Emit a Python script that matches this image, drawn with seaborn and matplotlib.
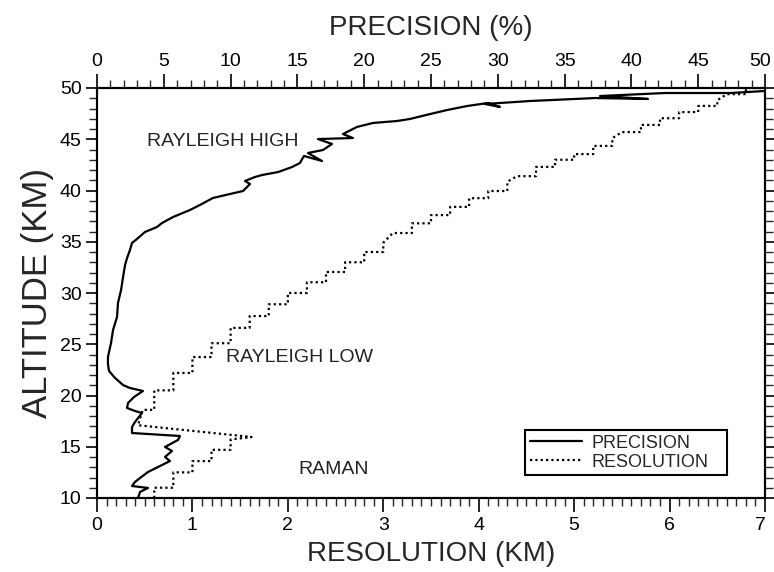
import matplotlib
matplotlib.use("Agg")
import matplotlib.pyplot as plt
from matplotlib.ticker import MultipleLocator
from matplotlib.transforms import ScaledTranslation
import seaborn as sns
import pandas as pd

# Precision profile (%), plotted against the top axis
prec_alt = [10.0, 10.59, 10.98, 11.17, 11.56, 11.95, 12.54, 13.22, 13.61, 14.0,
            14.59, 14.98, 15.66, 16.05, 16.34, 16.93, 17.41, 18.29, 18.49, 18.78,
            19.27, 19.85, 20.44, 20.73, 21.02, 21.71, 22.39, 23.07, 23.76, 25.12,
            26.39, 27.66, 29.02, 30.29, 31.56, 32.73, 33.41, 34.2, 34.88, 35.27,
            35.95, 36.44, 36.83, 37.41, 38.1, 38.59, 39.27, 39.66, 39.95, 40.63,
            40.93, 41.32, 41.51, 41.8, 42.29, 42.68, 43.37, 42.88, 43.66, 43.95,
            44.54, 45.02, 45.12, 45.51, 46.2, 46.59, 46.78, 46.98, 47.46, 47.85,
            48.24, 48.54, 48.15, 48.44, 48.73, 49.02, 48.93, 49.22, 49.51, 49.51,
            49.71]
prec_pct = [3.07, 3.22, 3.82, 2.62, 2.84, 3.22, 3.82, 4.87, 5.46, 5.09,
            5.61, 5.09, 6.06, 6.21, 2.62, 2.62, 2.84, 3.37, 2.84, 2.25,
            2.32, 2.77, 3.44, 2.47, 1.95, 1.35, 0.9, 0.82, 0.82, 1.05,
            1.2, 1.5, 1.57, 1.8, 1.95, 2.1, 2.25, 2.47, 2.62, 2.99,
            3.59, 4.49, 4.87, 5.69, 6.96, 7.71, 8.68, 9.96, 10.93, 11.45,
            11.08, 11.83, 12.35, 13.55, 14.6, 15.19, 15.49, 16.84, 15.79, 16.92,
            17.59, 16.54, 19.16, 18.41, 19.46, 20.66, 22.46, 23.43, 24.93, 26.2,
            27.69, 29.27, 30.16, 29.04, 32.41, 37.28, 41.24, 37.65, 42.51, 47.38,
            50.0]

# Vertical resolution profile (km), plotted against the bottom axis
res_alt = [10.0, 11.0, 11.0, 12.5, 12.5, 13.6, 13.6, 14.7, 14.7, 15.7,
           15.95, 17.1, 18.6, 18.6, 20.5, 20.5, 22.2, 22.2, 23.75, 23.75,
           25.1, 25.1, 26.6, 26.6, 27.75, 27.75, 28.9, 28.9, 30.0, 30.0,
           31.05, 31.05, 32.05, 32.05, 33.0, 33.0, 34.0, 34.0, 34.9, 35.85,
           35.85, 36.8, 36.8, 37.6, 37.6, 38.4, 38.4, 39.25, 39.25, 39.95,
           39.95, 40.85, 41.4, 41.4, 42.3, 42.3, 43.0, 43.0, 43.55, 43.55,
           44.35, 44.35, 45.1, 45.7, 45.7, 46.4, 46.4, 47.05, 47.05, 47.65,
           47.65, 48.25, 48.25, 48.8, 49.4, 49.4, 50.0, 50.0]
res_km = [0.6, 0.6, 0.8, 0.8, 1.0, 1.0, 1.2, 1.2, 1.4, 1.4,
          1.62, 0.43, 0.48, 0.6, 0.6, 0.8, 0.8, 1.0, 1.0, 1.2,
          1.2, 1.4, 1.4, 1.6, 1.6, 1.8, 1.8, 2.0, 2.0, 2.2,
          2.2, 2.4, 2.4, 2.6, 2.6, 2.8, 2.8, 3.0, 3.0, 3.1,
          3.3, 3.3, 3.5, 3.5, 3.7, 3.7, 3.9, 3.9, 4.1, 4.1,
          4.3, 4.3, 4.4, 4.6, 4.6, 4.8, 4.8, 5.0, 5.0, 5.2,
          5.2, 5.4, 5.4, 5.5, 5.7, 5.7, 5.9, 5.9, 6.1, 6.1,
          6.3, 6.3, 6.5, 6.5, 6.6, 6.8, 6.8, 7.0]

res_ticks = list(range(0, 8))
prec_ticks = list(range(0, 55, 5))
alt_ticks = list(range(10, 55, 5))

region_labels = ["RAYLEIGH HIGH", "RAYLEIGH LOW", "RAMAN"]
region_x = [0.52, 1.35, 2.11]
region_y = [44.8, 23.7, 12.8]

sns.set_style("ticks")
plt.rcParams["font.family"] = ["Liberation Sans", "DejaVu Sans"]

fig = plt.figure(figsize=(7.74, 5.72), dpi=100)
ax = fig.add_axes([97 / 774, 1 - 498 / 572, 668 / 774, 410 / 572])
ax2 = ax.twiny()

res_df = pd.DataFrame({"km": res_km, "alt": res_alt})
prec_df = pd.DataFrame({"pct": prec_pct, "alt": prec_alt})

sns.lineplot(data=res_df, x="km", y="alt", sort=False, estimator=None,
             color="black", lw=1.6, linestyle=(0, (1, 1.4)), ax=ax,
             label="RESOLUTION", legend=False)
sns.lineplot(data=prec_df, x="pct", y="alt", sort=False, estimator=None,
             color="black", lw=1.6, ax=ax2, label="PRECISION", legend=False)

ax.set_xlim(0, 7)
ax.set_ylim(10, 50)
ax2.set_xlim(0, 50)

ax.set_xticks(res_ticks)
ax.xaxis.set_minor_locator(MultipleLocator(0.1))
ax.set_yticks(alt_ticks)
ax.yaxis.set_minor_locator(MultipleLocator(1))
ax2.set_xticks(prec_ticks)
ax2.xaxis.set_minor_locator(MultipleLocator(1))

tick_fs = 14
ax.tick_params(axis="x", which="major", direction="out", length=10, width=1.2,
               labelsize=tick_fs, pad=4, colors="black")
ax.tick_params(axis="x", which="minor", direction="out", length=6, width=1.0)
ax.tick_params(axis="y", which="major", direction="out", length=8, width=1.2,
               labelsize=tick_fs, pad=3, right=True, colors="black")
ax.tick_params(axis="y", which="minor", direction="out", length=6, width=1.0,
               right=True)
ax2.tick_params(axis="x", which="major", direction="out", length=10, width=1.2,
                labelsize=tick_fs, pad=3, colors="black")
ax2.tick_params(axis="x", which="minor", direction="out", length=6, width=1.0)

for a in (ax, ax2):
    for s in a.spines.values():
        s.set_visible(True)
        s.set_linewidth(1.5)
        s.set_color("black")

ax.set_xlabel("RESOLUTION (KM)", fontsize=20, labelpad=5)
ax.set_ylabel("ALTITUDE (KM)", fontsize=25, labelpad=4)
ax2.set_xlabel("PRECISION (%)", fontsize=20, labelpad=13)

# keep the last labels at the right edge inside the canvas
fig.canvas.draw()
shift = ScaledTranslation(-5 / 100, 0, fig.dpi_scale_trans)
for lab in (ax2.get_xticklabels()[-1], ax.get_xticklabels()[-1]):
    lab.set_transform(lab.get_transform() + shift)

for txt, x, y in zip(region_labels, region_x, region_y):
    ax.text(x, y, txt, fontsize=14, ha="left", va="center", color="#222222")

h1, l1 = ax2.get_legend_handles_labels()
h2, l2 = ax.get_legend_handles_labels()
leg = ax2.legend(h1 + h2, l1 + l2, loc="lower left",
                 bbox_to_anchor=(0.641, 0.056, 0.302, 0.117), mode="expand",
                 fontsize=13, frameon=True, fancybox=False, framealpha=1,
                 edgecolor="black", handlelength=2.9, handletextpad=0.5,
                 borderpad=0.25, labelspacing=0.1, borderaxespad=0)
leg.get_frame().set_linewidth(1.5)

fig.savefig("out.png", dpi=100, facecolor="white")
